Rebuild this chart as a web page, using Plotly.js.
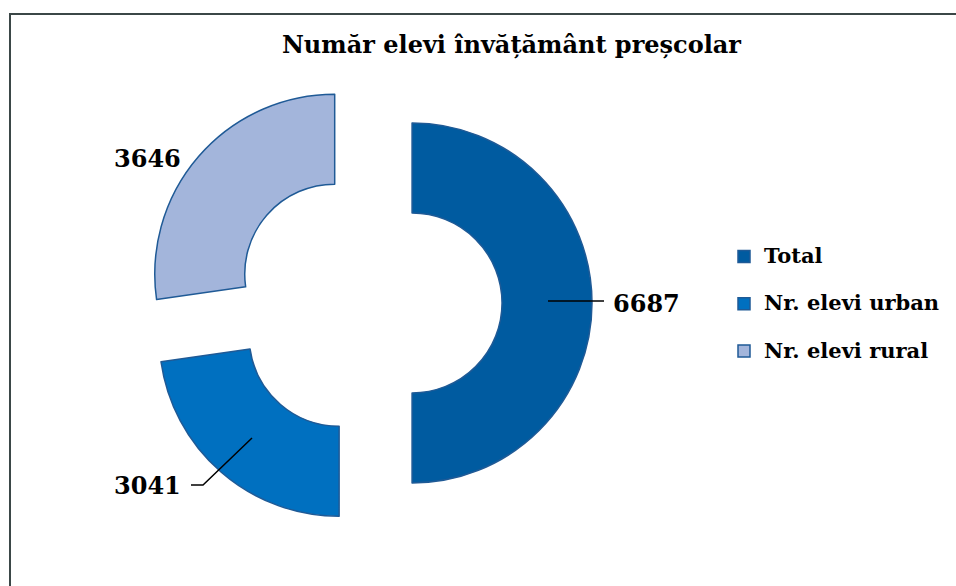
<!DOCTYPE html>
<html>
<head>
<meta charset="utf-8">
<script src="https://cdn.plot.ly/plotly-3.0.1.min.js"></script>
<style>
  html, body { margin: 0; padding: 0; background: #ffffff; }
  #frame { position: absolute; left: 9px; top: 13px; width: 960px; height: 590px; border-left: 2px solid #3b4747; border-top: 2px solid #3b4747; box-sizing: border-box; }
  #chart { position: absolute; left: 0; top: 0; width: 956px; height: 586px; }
</style>
</head>
<body>
<div id="frame"></div>
<div id="chart"></div>
<script>
var chartTitle = "Număr elevi învățământ preșcolar";
var categories = ["Total", "Nr. elevi urban", "Nr. elevi rural"];
var values = [6687, 3041, 3646];
var colors = ["#005BA0", "#0070C0", "#A3B5DB"];

var W = 956, H = 586;
function px(x) { return x / W; }
function py(y) { return 1 - y / H; }
var FONT = "DejaVu Serif";

var trace = {
  type: "pie",
  labels: categories.map(function (c) { return '<span style="font-size:21px">' + c + '</span><br> '; }),
  values: values,
  sort: false,
  direction: "clockwise",
  rotation: 0,
  hole: 0.5,
  pull: [0.245, 0.245, 0.245],
  marker: { colors: colors, line: { color: "#1F5A96", width: 1.5 } },
  textinfo: "none",
  hoverinfo: "value",
  domain: { x: [px(144), px(592)], y: [py(527), py(79)] }
};

var annotations = [
  { text: String(values[0]), x: px(611), y: py(303), xanchor: "left", yanchor: "middle" },
  { text: String(values[1]), x: px(183), y: py(485), xanchor: "right", yanchor: "middle" },
  { text: String(values[2]), x: px(183), y: py(158), xanchor: "right", yanchor: "middle" }
].map(function (a) {
  a.xref = "paper"; a.yref = "paper"; a.showarrow = false;
  a.font = { family: FONT, size: 24, color: "#000000", weight: "bold" };
  return a;
});

var shapes = [
  { type: "line", xref: "paper", yref: "paper", x0: px(548), y0: py(301), x1: px(604), y1: py(301), line: { color: "#000000", width: 1.5 } },
  { type: "path", xref: "paper", yref: "paper",
    path: "M " + px(252) + " " + py(438) + " L " + px(203) + " " + py(485) + " L " + px(191) + " " + py(485),
    line: { color: "#000000", width: 1.5 } }
];

var layout = {
  width: W, height: H,
  margin: { l: 0, r: 0, t: 0, b: 0 },
  paper_bgcolor: "rgba(0,0,0,0)",
  plot_bgcolor: "rgba(0,0,0,0)",
  title: { text: chartTitle, x: 0.535, xanchor: "center", y: 1 - 45 / H, yanchor: "middle", yref: "container",
           font: { family: FONT, size: 24, color: "#000000", weight: "bold" } },
  showlegend: true,
  legend: { x: px(724), y: py(239), xanchor: "left", yanchor: "top", valign: "top",
            font: { family: FONT, size: 17, color: "#000000", weight: "bold" }, bgcolor: "rgba(0,0,0,0)" },
  annotations: annotations,
  shapes: shapes
};

Plotly.newPlot("chart", [trace], layout, { displayModeBar: false, staticPlot: true });
</script>
</body>
</html>
